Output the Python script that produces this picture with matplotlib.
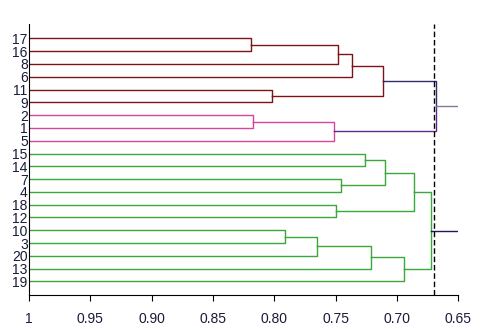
import matplotlib.pyplot as plt
import numpy as np

# leaf labels, top to bottom
leaves = ['17', '16', '8', '6', '11', '9', '2', '1', '5', '15',
          '14', '7', '4', '18', '12', '10', '3', '20', '13', '19']

# merges: (left, right, similarity), left/right are leaf labels or merge index 'mN'
merges = [
    ('17', '16', 0.819),   # m0
    ('m0', '8', 0.748),    # m1
    ('m1', '6', 0.7365),   # m2
    ('11', '9', 0.8017),   # m3
    ('m2', 'm3', 0.7112),  # m4
    ('2', '1', 0.8172),    # m5
    ('m5', '5', 0.751),    # m6
    ('m4', 'm6', 0.668),   # m7
    ('15', '14', 0.7259),  # m8
    ('7', '4', 0.7454),    # m9
    ('m8', 'm9', 0.7096),  # m10
    ('18', '12', 0.7495),  # m11
    ('m10', 'm11', 0.6859),  # m12
    ('10', '3', 0.7911),   # m13
    ('m13', '20', 0.765),  # m14
    ('m14', '13', 0.7215),  # m15
    ('m15', '19', 0.694),  # m16
    ('m12', 'm16', 0.672),  # m17
]
# colour of each merge's links (left branch, right branch)
merge_colors = (['#7b1515'] * 5 + ['#d5479c'] * 2 + [('#2f2b6e', '#5e2a86')]
                + ['#3aa83a'] * 10)
roots = ['m7', 'm17']
root_colors = ['#7c7c9c', '#1c1c5c']
cutoff = 0.6696
x_end = 0.65

fig, ax = plt.subplots(figsize=(4.85, 3.29), dpi=100)
fig.subplots_adjust(left=0.06, right=0.945, bottom=0.102, top=0.926)

ypos = {lab: len(leaves) - i for i, lab in enumerate(leaves)}
xpos = {lab: 1.0 for lab in leaves}

for k, (a, b, h) in enumerate(merges):
    c = merge_colors[k]
    ca, cb = (c, c) if isinstance(c, str) else c
    ya, yb = ypos[a], ypos[b]
    ax.plot([xpos[a], h, h], [ya, ya, (ya + yb) / 2], color=ca, lw=1)
    ax.plot([xpos[b], h, h], [yb, yb, (ya + yb) / 2], color=cb, lw=1)
    ypos['m%d' % k] = (ya + yb) / 2
    xpos['m%d' % k] = h

for r, c in zip(roots, root_colors):
    ax.plot([xpos[r], x_end], [ypos[r], ypos[r]], color=c, lw=1)

ax.axvline(cutoff, color='black', ls='--', lw=1, dashes=(4, 2))

ax.set_xlim(1, 0.65)
ax.set_ylim(-0.1, 21.1)
ax.set_yticks([ypos[l] for l in leaves])
ax.set_yticklabels(leaves, fontsize=10, color='#1a1a3a', family='Liberation Sans')
ax.tick_params(axis='y', length=0, pad=1)
xt = [1, 0.95, 0.90, 0.85, 0.80, 0.75, 0.70, 0.65]
ax.set_xticks(xt)
ax.set_xticklabels(['1'] + ['%.2f' % v for v in xt[1:]], fontsize=10,
                   color='#1a1a3a', family='Liberation Sans')
ax.tick_params(axis='x', length=4, pad=8)
ax.spines['top'].set_visible(False)
ax.spines['right'].set_visible(False)

plt.savefig('out.png')
